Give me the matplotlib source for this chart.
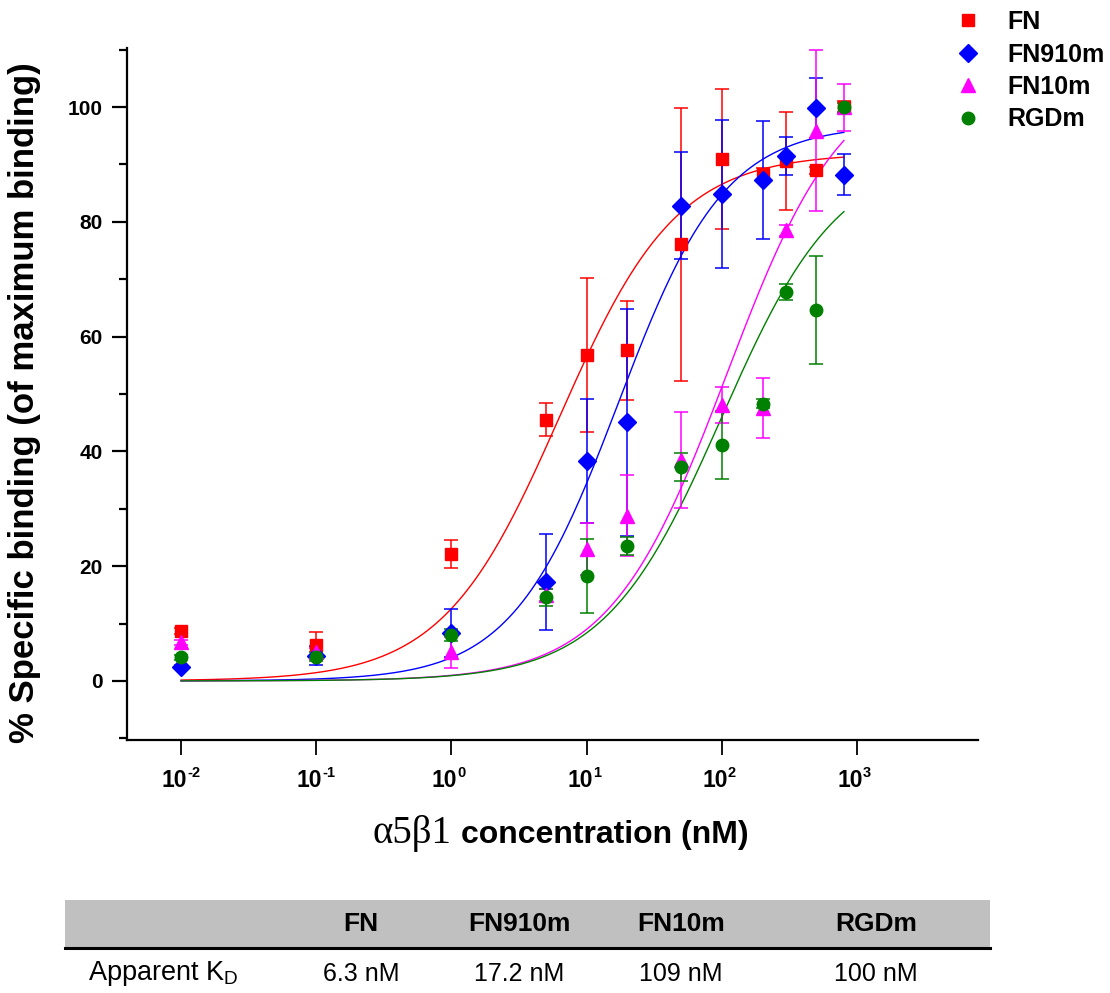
import numpy as np
import matplotlib
matplotlib.use('Agg')
import matplotlib.pyplot as plt
from matplotlib.lines import Line2D
from matplotlib.patches import Rectangle
from matplotlib.ticker import FixedLocator, NullLocator
from matplotlib.transforms import blended_transform_factory, ScaledTranslation

plt.rcParams['font.family'] = ['Liberation Sans', 'DejaVu Sans']
plt.rcParams['mathtext.fontset'] = 'custom'
plt.rcParams['mathtext.rm'] = 'Liberation Sans'
plt.rcParams['mathtext.bf'] = 'Liberation Sans:bold'
plt.rcParams['mathtext.it'] = 'Liberation Sans:italic'

# ---------------- data ----------------
conc = [0.01, 0.1, 1, 5, 10, 20, 50, 100, 200, 300, 500, 800]

fn_mean = [8.7, 6.3, 22.1, 45.5, 56.8, 57.6, 76.1, 90.9, 88.4, 90.6, 89.0, 100.0]
fn_err = [0.6, 2.2, 2.5, 2.9, 13.5, 8.6, 23.8, 12.2, 1.0, 8.6, 0.6, 1.0]

fn910m_mean = [2.4, 4.4, 8.3, 17.2, 38.3, 45.1, 82.8, 84.8, 87.3, 91.5, 99.9, 88.2]
fn910m_err = [0.4, 1.6, 4.2, 8.4, 10.8, 19.8, 9.3, 12.9, 10.3, 3.3, 5.2, 3.6]

fn10m_mean = [6.7, 5.0, 5.0, 15.0, 23.0, 28.8, 38.5, 48.1, 47.6, 78.5, 95.9, 100.0]
fn10m_err = [0.5, 0.8, 2.7, 1.0, 4.5, 7.0, 8.3, 3.1, 5.2, 1.0, 14.0, 4.1]

rgdm_mean = [4.1, 4.2, 8.0, 14.6, 18.3, 23.5, 37.3, 41.1, 48.3, 67.7, 64.6, 100.0]
rgdm_err = [0.5, 0.8, 1.0, 1.5, 6.5, 1.5, 2.4, 6.0, 0.8, 1.4, 9.4, 0.8]

legend_labels = ['FN', 'FN910m', 'FN10m', 'RGDm']
series_colors = ['#ff0000', '#0000ff', '#ff00ff', '#008000']
series_markers = ['s', 'D', '^', 'o']

# fitted binding-curve parameters
fit_bmax = [92, 97, 107, 92]
fit_kd = [6.3, 17.2, 109, 100]
fit_hill = [1.0, 1.1, 1.0, 1.0]

# table
table_cols = ['FN', 'FN910m', 'FN10m', 'RGDm']
table_kd = ['6.3 nM', '17.2 nM', '109 nM', '100 nM']
table_row_label = 'Apparent K$_\\mathregular{D}$'

xtick_vals = [1e-2, 1e-1, 1e0, 1e1, 1e2, 1e3]
ytick_vals = [0, 20, 40, 60, 80, 100]

means = [fn_mean, fn910m_mean, fn10m_mean, rgdm_mean]
errs = [fn_err, fn910m_err, fn10m_err, rgdm_err]

# ---------------- figure ----------------
W, H = 1110, 993
fig = plt.figure(figsize=(W / 100, H / 100), dpi=100)
ax = fig.add_axes([127 / W, 1 - 740 / H, (978 - 127) / W, (740 - 48) / H])

xfit = np.logspace(np.log10(conc[0]), np.log10(conc[-1]), 300)
marker_sizes = {'s': 9, 'D': 9, '^': 10.5, 'o': 9}
for mean, err, col, mk, bm, kd, n in zip(means, errs, series_colors, series_markers,
                                         fit_bmax, fit_kd, fit_hill):
    yfit = bm * (xfit / kd) ** n / (1 + (xfit / kd) ** n)
    ax.plot(xfit, yfit, color=col, lw=1.0, zorder=2)
    ax.errorbar(conc, mean, yerr=err, fmt='none', ecolor=col, elinewidth=1.1,
                capsize=5, capthick=1.1, zorder=3)
    ax.plot(conc, mean, ls='none', marker=mk, ms=marker_sizes[mk], color=col,
            mec=col, zorder=4)

ax.set_xscale('log')
ax.set_xlim(10 ** -2.4, 10 ** 3.895)
ax.set_ylim(-10.3, 110.3)
ax.set_xticks(xtick_vals)
ax.set_xticklabels([''] * len(xtick_vals))
ax.xaxis.set_minor_locator(NullLocator())
ax.set_yticks(ytick_vals)
ax.set_yticklabels([str(v) for v in ytick_vals])
ax.yaxis.set_minor_locator(FixedLocator([-10, 10, 30, 50, 70, 90, 110]))

for s in ['top', 'right']:
    ax.spines[s].set_visible(False)
for s in ['left', 'bottom']:
    ax.spines[s].set_linewidth(1.6)

ax.tick_params(axis='y', which='major', direction='out', length=10.5, width=1.6,
               labelsize=15, pad=7)
ax.tick_params(axis='y', which='minor', direction='out', length=5.5, width=1.6)
ax.tick_params(axis='x', which='major', direction='out', length=11, width=1.3)
for lab in ax.get_yticklabels():
    lab.set_fontweight('bold')

# x tick labels: "10" with a small superscript exponent
bt = blended_transform_factory(ax.transData, ax.transAxes)
base_y = (740 - 787) / 692
sup_y = (740 - 777) / 692
for v in xtick_vals:
    expo = str(int(round(np.log10(v))))
    ax.text(v, base_y, '10', transform=bt + ScaledTranslation(6 / 100, 0, fig.dpi_scale_trans),
            ha='right', va='baseline', fontsize=16.5, fontweight='bold', clip_on=False)
    ax.text(v, sup_y, expo, transform=bt + ScaledTranslation(6 / 100, 0, fig.dpi_scale_trans),
            ha='left', va='baseline', fontsize=10.5, fontweight='bold', clip_on=False)

# axis labels
fig.text(25 / W, 1 - 403 / H, '% Specific binding (of maximum binding)', rotation=90,
         ha='center', va='center', fontsize=25, fontweight='bold')
fig.text(452 / W, 1 - 843 / H, '\u03b15\u03b21', ha='right', va='baseline',
         fontsize=28, family=['Liberation Serif', 'DejaVu Serif'])
fig.text(461 / W, 1 - 843 / H, 'concentration (nM)', ha='left', va='baseline',
         fontsize=23, fontweight='bold')

# legend
handles = [Line2D([], [], ls='none', marker=mk, color=col, mec=col,
                  ms=marker_sizes[mk])
           for mk, col in zip(series_markers, series_colors)]
leg = fig.legend(handles, legend_labels, loc='upper left',
                 bbox_to_anchor=(945 / W, 1.0), frameon=False,
                 prop={'weight': 'bold', 'size': 18}, handlelength=1.0,
                 handletextpad=1.1, labelspacing=0.34, borderaxespad=0)

# table
fig.patches.append(Rectangle((65 / W, 1 - 948 / H), (990 - 65) / W, 48 / H,
                             transform=fig.transFigure, facecolor='#c0c0c0',
                             edgecolor='none', zorder=0))
fig.lines.append(Line2D([65 / W, 990 / W], [1 - 948 / H, 1 - 948 / H],
                        transform=fig.transFigure, color='black', lw=2.2))
col_x = [361, 519, 681, 876]
for cx, name, kdv in zip(col_x, table_cols, table_kd):
    fig.text(cx / W, 1 - 924 / H, name, ha='center', va='center', fontsize=19,
             fontweight='bold')
    fig.text(cx / W, 1 - 974 / H, kdv, ha='center', va='center', fontsize=18)
fig.text(88 / W, 1 - 974 / H, table_row_label, ha='left', va='center', fontsize=19.5)

fig.savefig('out.png', dpi=100)
